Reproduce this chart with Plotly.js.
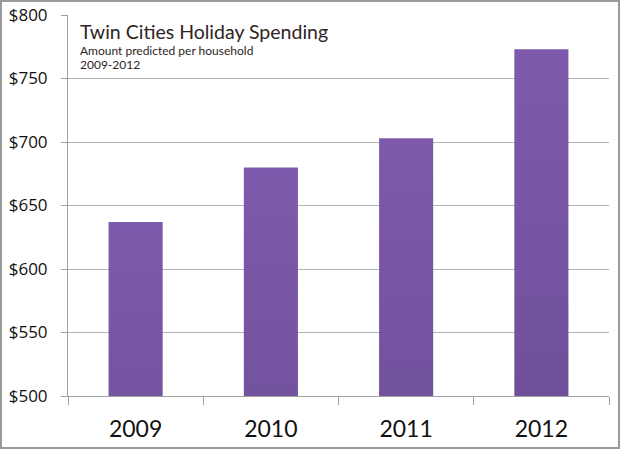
<!DOCTYPE html>
<html>
<head>
<meta charset="utf-8">
<script src="https://cdn.plot.ly/plotly-3.0.1.min.js"></script>
<style>
  html, body { margin: 0; padding: 0; background: #fff; }
  #chart { width: 620px; height: 449px; }
  #frame { position: absolute; left: 0; top: 0; width: 620px; height: 449px;
           box-sizing: border-box; border: 2px solid #9a9a9a; pointer-events: none; }
  #gradDefs { position: absolute; width: 0; height: 0; overflow: hidden; }
  /* vertical gradient on the bars, lighter at the top */
  #chart .bars .point path { fill: url(#barGrad) !important; }
</style>
</head>
<body>
<svg id="gradDefs" aria-hidden="true">
  <defs>
    <linearGradient id="barGrad" x1="0" y1="0" x2="0" y2="1">
      <stop offset="0" stop-color="#7d5aab"/>
      <stop offset="0.4" stop-color="#6e4e98"/>
      <stop offset="1" stop-color="#553a75"/>
    </linearGradient>
  </defs>
</svg>
<div id="chart"></div>
<div id="frame"></div>
<script>
const years = ['2009', '2010', '2011', '2012'];
const spending = [637, 680, 703, 773];
const yTicks = [500, 550, 600, 650, 700, 750, 800];
const yTickText = ['$500', '$550', '$600', '$650', '$700', '$750', '$800'];

const trace = {
  x: years,
  y: spending,
  type: 'bar',
  marker: { color: '#684990', line: { width: 0 } },
  hoverinfo: 'x+y'
};

const titleFont = 'Lato, "Open Sans", sans-serif';

const layout = {
  width: 620,
  height: 449,
  margin: { l: 68, r: 11, t: 15, b: 53 },
  paper_bgcolor: '#fff',
  plot_bgcolor: '#fff',
  showlegend: false,
  bargap: 0.6,
  xaxis: {
    type: 'category',
    tickson: 'boundaries',
    ticks: 'outside',
    ticklen: 8,
    tickcolor: '#a0a0a0',
    showline: true,
    linecolor: '#a0a0a0',
    linewidth: 1,
    showgrid: false,
    ticklabelstandoff: 12,
    tickfont: { family: 'Lato, "Open Sans", sans-serif', size: 23, color: '#111' }
  },
  yaxis: {
    range: [500, 800],
    tickvals: yTicks,
    ticktext: yTickText,
    ticks: 'outside',
    ticklen: 6,
    tickcolor: '#a0a0a0',
    showline: true,
    linecolor: '#a0a0a0',
    gridcolor: '#b4b4b4',
    gridwidth: 1,
    zeroline: false,
    ticklabelstandoff: 10,
    tickfont: { family: '"Open Sans", "Noto Sans", sans-serif', size: 17, color: '#111' }
  },
  annotations: [
    { xref: 'paper', yref: 'paper', x: 0.018, y: 0.993, xanchor: 'left', yanchor: 'top',
      text: 'Twin Cities Holiday Spending', showarrow: false,
      font: { family: titleFont, size: 19.5, color: '#2e2424' } },
    { xref: 'paper', yref: 'paper', x: 0.018, y: 0.932, xanchor: 'left', yanchor: 'top',
      text: 'Amount predicted per household', showarrow: false,
      font: { family: titleFont, size: 12, color: '#2e2424' } },
    { xref: 'paper', yref: 'paper', x: 0.018, y: 0.895, xanchor: 'left', yanchor: 'top',
      text: '2009-2012', showarrow: false,
      font: { family: titleFont, size: 12, color: '#2e2424' } }
  ]
};

Plotly.newPlot('chart', [trace], layout, { displayModeBar: false, staticPlot: true });
</script>
</body>
</html>
